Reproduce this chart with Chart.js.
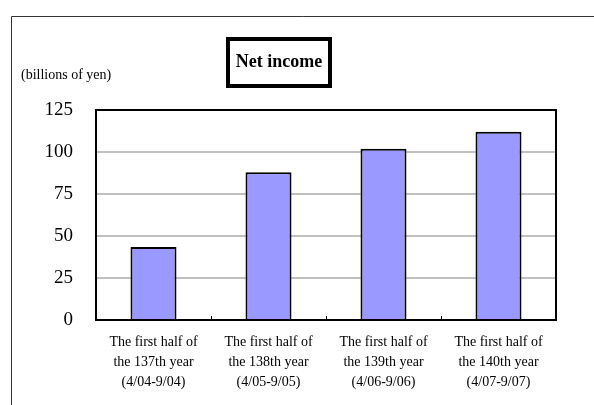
<!DOCTYPE html>
<html><head><meta charset="utf-8">
<script src="https://cdn.jsdelivr.net/npm/chart.js@4"></script>
<style>html,body{margin:0;padding:0;background:#fff}#wrap{width:594px;height:405px}</style>
</head><body><div id="wrap"><canvas id="c" width="594" height="405"></canvas></div>
<script>
const categories = [
  ["The first half of","the 137th year","(4/04-9/04)"],
  ["The first half of","the 138th year","(4/05-9/05)"],
  ["The first half of","the 139th year","(4/06-9/06)"],
  ["The first half of","the 140th year","(4/07-9/07)"]
];
const netIncome = [43.5, 88, 102, 112];
const yTicks = [0, 25, 50, 75, 100, 125];
const chartTitle = "Net income";
const unitLabel = "(billions of yen)";
const SERIF = "'Liberation Serif', 'Times New Roman', serif";

const decor = {
  id: 'decor',
  beforeDraw(chart) {
    const ctx = chart.ctx;
    ctx.save();
    ctx.fillStyle = '#fff';
    ctx.fillRect(0, 0, chart.width, chart.height);
    ctx.strokeStyle = '#333';
    ctx.lineWidth = 1;
    ctx.beginPath();
    ctx.moveTo(11.5, 405); ctx.lineTo(11.5, 16.5); ctx.lineTo(594, 16.5);
    ctx.stroke();
    // title box
    ctx.lineWidth = 4;
    ctx.strokeStyle = '#000';
    ctx.strokeRect(228, 39, 102, 47);
    ctx.fillStyle = '#000';
    ctx.font = 'bold 18px ' + SERIF;
    ctx.textAlign = 'center';
    ctx.textBaseline = 'middle';
    ctx.fillText(chartTitle, 279, 62);
    ctx.font = '14px ' + SERIF;
    ctx.textAlign = 'left';
    ctx.fillText(unitLabel, 21, 75);
    ctx.restore();
  },
  afterDatasetsDraw(chart) {
    const ctx = chart.ctx, a = chart.chartArea, xs = chart.scales.x;
    ctx.save();
    ctx.strokeStyle = '#000';
    ctx.lineWidth = 2;
    ctx.strokeRect(a.left, a.top, a.right - a.left, a.bottom - a.top);
    ctx.lineWidth = 1;
    ctx.beginPath();
    for (let i = 1; i < categories.length; i++) {
      const x = Math.round((xs.getPixelForTick(i - 1) + xs.getPixelForTick(i)) / 2) + 0.5;
      ctx.moveTo(x, a.bottom); ctx.lineTo(x, a.bottom - 4);
    }
    ctx.stroke();
    ctx.restore();
  }
};

new Chart(document.getElementById('c'), {
  type: 'bar',
  data: {
    labels: categories,
    datasets: [{
      data: netIncome,
      backgroundColor: '#9999ff',
      borderColor: '#000',
      borderWidth: 2,
      categoryPercentage: 1,
      barPercentage: 0.4
    }]
  },
  options: {
    responsive: false,
    animation: false,
    devicePixelRatio: 1,
    layout: { padding: { left: 0, right: 38, top: 110, bottom: 0 } },
    plugins: { legend: { display: false }, title: { display: false }, tooltip: { enabled: false } },
    scales: {
      x: {
        grid: { display: false, drawTicks: false },
        border: { display: false },
        ticks: { color: '#000', font: { family: SERIF, size: 14, lineHeight: 1.45 }, padding: 12, maxRotation: 0, autoSkip: false },
        afterFit(s) { s.height = 85; }
      },
      y: {
        min: 0, max: 125,
        afterBuildTicks(s) { s.ticks = yTicks.map(v => ({ value: v })); },
        grid: { color: '#c0c0c0', lineWidth: 2, drawTicks: false },
        border: { display: false },
        ticks: { color: '#000', font: { family: SERIF, size: 19 }, padding: 23 },
        afterFit(s) { s.width = 96; }
      }
    }
  },
  plugins: [decor]
});
</script>
</body></html>
